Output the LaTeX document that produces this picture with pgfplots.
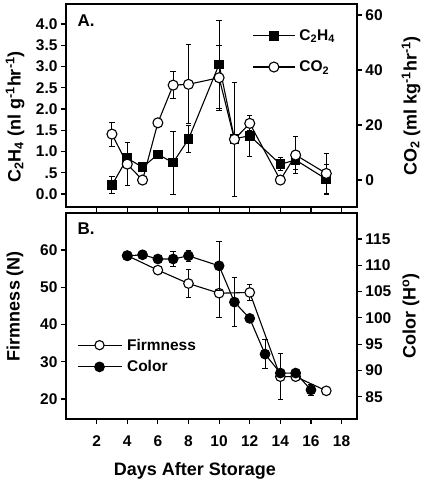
\documentclass[border=0pt]{standalone}
\usepackage{pgfplots}
\pgfplotsset{compat=1.18}
\usepackage{fontspec}
\setmainfont{Liberation Sans}
\newcommand{\tfont}{\bfseries\fontsize{15.5}{15.5}\selectfont}
\newcommand{\lfont}{\bfseries\fontsize{18}{18}\selectfont}
\newcommand{\gfont}{\bfseries\fontsize{15.5}{15.5}\selectfont}

\pgfplotsset{
  base/.style={
    scale only axis, width=290.9pt,
    xmin=0, xmax=19, xtick={2,4,6,8,10,12,14,16,18},
    tick align=outside, major tick length=5pt,
    axis line style={line width=1.6pt},
    major tick style={line width=1.2pt, black},
    tick label style={font=\tfont},
    xticklabel style={yshift=-8.5pt},
    /pgf/number format/assume math mode=true,
    anchor=north west,
  },
  ser/.style={black, line width=1.1pt, mark options={solid, line width=1pt, black}},
  errs/.style={error bars/.cd, y dir=both, y explicit,
    error bar style={line width=1pt, black},
    error mark options={rotate=90, mark size=2.7pt, line width=1pt, black}},
}

\pgfplotstableread{
x y e
3 0.21 0.2
4 0.84 0.05
5 0.63 0.05
6 0.93 0.05
7 0.74 0.74
8 1.29 0.31
10 3.05 1.04
11 1.30 0.05
12 1.37 0.48
14 0.70 0.15
15 0.80 0.22
17 0.35 0.35
}\ethylene

\pgfplotstableread{
x y e
3 16.7 4.4
4 5.8 7.7
5 0.0 0
6 20.8 0
7 34.5 5.0
8 34.8 14.3
10 37.2 11.8
11 14.8 20.6
12 20.6 2.7
14 0.0 0
15 9.1 6.8
17 2.4 7.3
}\cotwo

\pgfplotstableread{
x y e
4 58.5 0
6 54.6 0
8 51.0 3.7
10 48.4 6.5
12 48.6 2.1
14 26.0 6.2
15 26.0 0
17 22.2 0
}\firm

\pgfplotstableread{
x y e
4 111.8 0
5 112.0 0.8
6 111.2 0.6
7 111.2 1.4
8 111.8 1.1
10 109.9 4.6
11 103.0 4.6
12 99.9 0
13 93.1 2.8
14 89.5 0
15 89.5 0
16 86.3 1.0
}\colr

\begin{document}
\begin{tikzpicture}[x=1pt,y=1pt]
\useasboundingbox (0,0) rectangle (426,-482);

% ---------- Panel A ----------
\begin{axis}[base, at={(66pt,-4pt)}, height=203pt,
  ymin=-0.306, ymax=4.47,
  ytick={0,0.5,1,1.5,2,2.5,3,3.5,4},
  yticklabels={0.0,.5,1.0,1.5,2.0,2.5,3.0,3.5,4.0},
  xticklabels={}, ytick pos=left, xtick pos=lower]
\addplot[ser, mark=square*, mark size=4.3pt, errs] table[x=x, y=y, y error=e] {\ethylene};
\end{axis}
\begin{axis}[base, at={(66pt,-4pt)}, height=203pt,
  ymin=-9.8, ymax=64, ytick={0,20,40,60},
  axis y line*=right, axis x line=none,
  legend style={draw=none, fill=none, at={(rel axis cs:0.64,0.885)}, anchor=north west,
    font=\gfont, row sep=15pt, inner sep=0pt},
  legend cell align=left,
  legend image code/.code={\draw[mark repeat=2,mark phase=2,#1] plot coordinates {(0pt,0pt) (21pt,0pt) (42pt,0pt)}; \path (44pt,0pt);}]
\addlegendimage{ser, mark=square*, mark size=4.3pt, mark options={fill=black}}
\addlegendentry{C\textsubscript{2}H\textsubscript{4}}
\addplot[ser, mark=*, mark size=5pt, mark options={fill=white}, errs] table[x=x, y=y, y error=e] {\cotwo};
\addlegendentry{CO\textsubscript{2}}
\end{axis}

% ---------- Panel B ----------
\begin{axis}[base, at={(66pt,-213pt)}, height=206pt,
  ymin=14.63, ymax=69.93, ytick={20,30,40,50,60},
  ytick pos=left, xtick pos=lower]
\addplot[ser, mark=*, mark size=4.8pt, mark options={fill=white}, errs] table[x=x, y=y, y error=e] {\firm};
\end{axis}
\begin{axis}[base, at={(66pt,-213pt)}, height=206pt,
  ymin=80.76, ymax=119.95, ytick={85,90,95,100,105,110,115},
  axis y line*=right, axis x line=none,
  legend style={draw=none, fill=none, at={(rel axis cs:0.037,0.4)}, anchor=north west,
    font=\gfont, row sep=5pt, inner sep=0pt},
  legend cell align=left,
  legend image code/.code={\draw[mark repeat=2,mark phase=2,#1] plot coordinates {(0pt,0pt) (22pt,0pt) (44pt,0pt)}; \path (47pt,0pt);}]
\addlegendimage{ser, mark=*, mark size=4.6pt, mark options={fill=white}}
\addlegendentry{Firmness}
\addplot[ser, mark=*, mark size=4.8pt, mark options={fill=black}, errs] table[x=x, y=y, y error=e] {\colr};
\addlegendentry{Color}
\end{axis}

% ---------- labels ----------
\node[font=\bfseries\fontsize{17}{17}\selectfont] at (86,-21) {A.};
\node[font=\bfseries\fontsize{17}{17}\selectfont] at (86,-229) {B.};
\node[rotate=90, font=\lfont] at (15,-117) {C\textsubscript{2}H\textsubscript{4} (nl g\textsuperscript{-1}hr\textsuperscript{-1})};
\node[rotate=90, font=\lfont] at (411,-106) {CO\textsubscript{2} (ml kg\textsuperscript{-1}hr\textsuperscript{-1})};
\node[rotate=90, font=\lfont] at (15,-306) {Firmness (N)};
\node[rotate=90, font=\lfont] at (411,-316) {Color (H\textsuperscript{o})};
\node[font=\lfont] at (195,-471) {Days After Storage};
\end{tikzpicture}
\end{document}
